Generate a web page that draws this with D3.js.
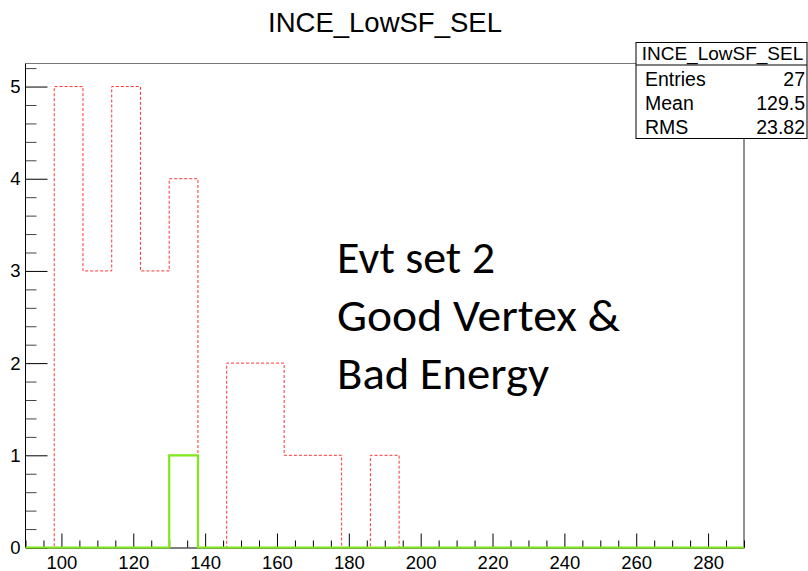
<!DOCTYPE html>
<html>
<head>
<meta charset="utf-8">
<script src="https://cdn.jsdelivr.net/npm/d3@7"></script>
<style>
  body { margin: 0; background: #fff; }
  svg { display: block; font-family: "Liberation Sans", Arial, sans-serif; }
</style>
</head>
<body>
<svg id="chart" width="808" height="571"></svg>
<script>
// histogram: 25 bins of width 8 from 90 to 290
const binStart = 90
const binWidth = 8
const redCounts = [0, 5, 3, 5, 3, 4, 0, 2, 2, 1, 1, 0, 1, 0, 0, 0, 0, 0, 0, 0, 0, 0, 0, 0, 0]
const greenCounts = [0, 0, 0, 0, 0, 1, 0, 0, 0, 0, 0, 0, 0, 0, 0, 0, 0, 0, 0, 0, 0, 0, 0, 0, 0]
const xMajor = [100, 120, 140, 160, 180, 200, 220, 240, 260, 280]
const yMajor = [0, 1, 2, 3, 4, 5]
const statsLabels = ['Entries', 'Mean', 'RMS']
const statsValues = ['27', '129.5', '23.82']
const histName = 'INCE_LowSF_SEL'
const noteLines = ['Evt set 2', 'Good Vertex &', 'Bad Energy']

const frame = { left: 25.5, right: 744, top: 63.5, bottom: 547.5 }

const x = d3.scaleLinear().domain([90, 290]).range([frame.left, frame.right])
const y = d3.scaleLinear().domain([0, 5.25]).range([frame.bottom, frame.top])

const svg = d3.select('#chart')

// frame top / right
svg.append('line')
    .attr('x1', frame.left).attr('x2', frame.right)
    .attr('y1', frame.top).attr('y2', frame.top)
    .attr('stroke', '#777').attr('stroke-width', 1.2)
svg.append('line')
    .attr('x1', frame.right).attr('x2', frame.right)
    .attr('y1', frame.top).attr('y2', frame.bottom)
    .attr('stroke', '#222').attr('stroke-width', 1)

// step outline of a histogram, no closing bottom
const stepPath = (counts) => {
    const pts = [[binStart, 0]]
    counts.forEach((c, i) => {
        const lo = binStart + i * binWidth
        pts.push([lo, c], [lo + binWidth, c])
    })
    pts.push([binStart + counts.length * binWidth, 0])
    return d3.line().x(d => x(d[0])).y(d => y(d[1]))(pts)
}

svg.append('path')
    .attr('d', stepPath(redCounts))
    .attr('fill', 'none')
    .attr('stroke', '#f33')
    .attr('stroke-width', 1)
    .attr('stroke-dasharray', '3,2')

// axes
const xMinor = d3.range(90, 291, 5).filter(v => !xMajor.includes(v))
const yMinor = d3.range(0, 5.25, 0.2).map(v => +v.toFixed(1)).filter(v => !yMajor.includes(v))

const xAxis = svg.append('g')
    .attr('transform', `translate(0,${frame.bottom})`)
xAxis.call(d3.axisBottom(x).tickValues(xMinor).tickSizeInner(-7).tickSizeOuter(0).tickFormat(''))
xAxis.call(g => g.select('.domain').remove())
const xAxisMaj = svg.append('g')
    .attr('transform', `translate(0,${frame.bottom})`)
    .call(d3.axisBottom(x).tickValues(xMajor).tickSizeInner(-14).tickSizeOuter(0).tickPadding(8))
xAxisMaj.select('.domain').attr('stroke', '#000')

const yAxis = svg.append('g')
    .attr('transform', `translate(${frame.left},0)`)
yAxis.call(d3.axisLeft(y).tickValues(yMinor).tickSizeInner(-11).tickSizeOuter(0).tickFormat(''))
yAxis.call(g => g.select('.domain').remove())
yAxis.selectAll('line').attr('stroke', '#444')
const yAxisMaj = svg.append('g')
    .attr('transform', `translate(${frame.left},0)`)
    .call(d3.axisLeft(y).tickValues(yMajor).tickFormat(d3.format('d'))
        .tickSizeInner(-22).tickSizeOuter(0).tickPadding(5))
yAxisMaj.select('.domain').attr('d', `M0,${frame.bottom}V${frame.top}`)

svg.selectAll('.tick text')
    .attr('font-family', '"Liberation Sans", Arial, sans-serif')
    .attr('font-size', 18.5)
    .attr('fill', '#000')

// green histogram on top
svg.append('path')
    .attr('d', stepPath(greenCounts))
    .attr('fill', 'none')
    .attr('stroke', '#7fe81a')
    .attr('stroke-width', 2.2)

// title
svg.append('text')
    .attr('x', 385).attr('y', 31.5)
    .attr('text-anchor', 'middle')
    .attr('font-size', 27.5)
    .text(histName)

// stats box
const box = { x0: 636, x1: 807, y0: 42.5, y1: 138.5 }
svg.append('rect')
    .attr('x', box.x0).attr('y', box.y0)
    .attr('width', box.x1 - box.x0).attr('height', box.y1 - box.y0)
    .attr('fill', '#fff').attr('stroke', '#000').attr('stroke-width', 1)
svg.append('line')
    .attr('x1', box.x0).attr('x2', box.x1)
    .attr('y1', 65).attr('y2', 65)
    .attr('stroke', '#000')
svg.append('text')
    .attr('x', (box.x0 + box.x1) / 2 + 1).attr('y', 59.5)
    .attr('text-anchor', 'middle')
    .attr('font-size', 19)
    .text(histName)
const rowY = [86, 110, 134]
statsLabels.forEach((lab, i) => {
    svg.append('text')
        .attr('x', 645).attr('y', rowY[i])
        .attr('font-size', 19.5)
        .text(lab)
    svg.append('text')
        .attr('x', 805).attr('y', rowY[i])
        .attr('text-anchor', 'end')
        .attr('font-size', 19.5)
        .text(statsValues[i])
})

// pasted annotation
const noteW = [158, 283, 212]
noteLines.forEach((t, i) => {
    svg.append('text')
        .attr('x', 337).attr('y', 272.5 + i * 58)
        .attr('font-family', 'Carlito, "Open Sans", "Noto Sans", sans-serif')
        .attr('font-size', 45)
        .attr('textLength', noteW[i])
        .attr('lengthAdjust', 'spacingAndGlyphs')
        .text(t)
})
</script>
</body>
</html>
